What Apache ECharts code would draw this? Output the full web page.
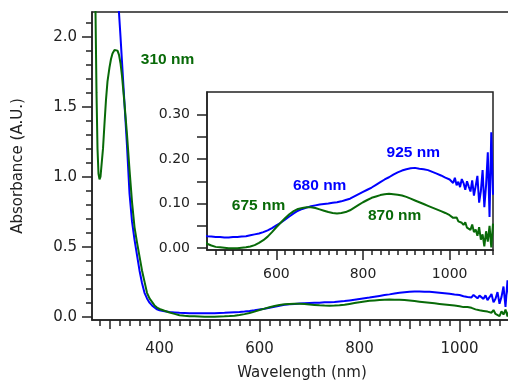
<!DOCTYPE html>
<html>
<head>
<meta charset="utf-8">
<script src="https://cdn.jsdelivr.net/npm/echarts@6/dist/echarts.min.js"></script>
<style>html,body{margin:0;padding:0;background:#fff}#c{width:508px;height:381px}</style>
</head>
<body>
<div id="c"></div>
<script>
// ---------- data ----------
const wavelength = [265,270,272,274,276,278,280,282,284,287,290,293,296,300,303,306,310,313,316,319,322,325,
  330,335,340,345,350,355,360,365,370,375,380,385,390,395,400,
  410,420,430,440,450,460,470,480,490,500,510,520,530,540,550,560,570,580,590,600,610,620,630,640,650,660,670,680,690,700,
  710,720,730,740,750,760,770,780,790,800,810,820,830,840,850,860,870,880,890,900,910,920,930,940,950,960,970,980,990,1000,
  1004,1008,1012,1016,1020,1024,1028,1032,1036,1040,1044,1048,1052,1056,1060,1064,1068,1072,1076,1080,1084,1088,1092,1096,1100];

const blueAbs = [4.5,4.3,4.2,4.1,4.0,3.9,3.8,3.72,3.64,3.52,3.4,3.28,3.15,3.0,2.86,2.73,2.56,2.42,2.3,2.17,2.0,1.82,
  1.52,1.22,0.88,0.68,0.55,0.44,0.33,0.24,0.17,0.13,0.1,0.08,0.065,0.052,0.045,
  0.038,0.033,0.03,0.027,0.026,0.025,0.025,0.024,0.024,0.025,0.025,0.026,0.027,0.029,0.031,0.033,0.036,0.04,0.045,0.051,0.057,0.064,0.071,0.078,0.084,0.088,0.091,0.094,0.096,0.098,
  0.099,0.1,0.102,0.103,0.105,0.108,0.111,0.116,0.121,0.126,0.131,0.136,0.142,0.148,0.154,0.159,0.165,0.17,0.174,0.177,0.179,0.18,0.178,0.177,0.175,0.171,0.167,0.163,0.158,0.154,
  0.150,0.146,0.158,0.141,0.149,0.137,0.155,0.146,0.131,0.150,0.138,0.127,0.152,0.118,0.139,0.162,0.102,0.128,0.175,0.092,0.141,0.215,0.07,0.26,0.12];

const greenAbs = [3.0,2.5,2.18,1.6,1.2,1.02,0.98,1.0,1.08,1.2,1.38,1.55,1.68,1.78,1.84,1.88,1.905,1.91,1.9,1.87,1.81,1.72,
  1.52,1.3,1.05,0.82,0.64,0.53,0.43,0.33,0.25,0.17,0.13,0.105,0.08,0.065,0.055,
  0.042,0.03,0.02,0.01,0.006,0.003,0.002,0.001,0.0,0.0,0.0,0.001,0.002,0.004,0.007,0.012,0.018,0.026,0.036,0.047,0.057,0.067,0.076,0.083,0.088,0.09,0.092,0.092,0.09,0.087,
  0.084,0.081,0.079,0.078,0.079,0.081,0.085,0.091,0.097,0.103,0.108,0.113,0.116,0.119,0.121,0.122,0.121,0.12,0.118,0.115,0.111,0.107,0.103,0.099,0.095,0.091,0.087,0.083,0.079,0.074,
  0.071,0.068,0.064,0.069,0.06,0.063,0.057,0.052,0.058,0.046,0.049,0.041,0.053,0.036,0.042,0.028,0.047,0.019,0.031,0.004,0.038,0.015,0.05,0.002,0.055];

const mainXLabels = [400,600,800,1000];
const mainYLabels = [0,0.5,1.0,1.5,2.0];
const insetXLabels = [600,800,1000];
const insetYLabels = [0,0.1,0.2,0.3];

const annotations = [
  {text:'310 nm', plot:'main', wl:416, abs:1.834, color:'green'},
  {text:'925 nm', plot:'inset', wl:916, abs:0.215, color:'blue'},
  {text:'680 nm', plot:'inset', wl:700, abs:0.139, color:'blue'},
  {text:'675 nm', plot:'inset', wl:559, abs:0.0945, color:'green'},
  {text:'870 nm', plot:'inset', wl:873, abs:0.072, color:'green'}
];

// ---------- styling ----------
const BLUE = '#0000ff', GREEN = '#086a08', INK = '#222';
const FONT = 'DejaVu Sans';

function pairs(vals){ const out=[]; for(let i=0;i<wavelength.length && i<vals.length;i++) out.push([wavelength[i], vals[i]]); return out; }
function range(a,b,s,skip){ const r=[]; for(let v=a; v<=b+1e-9; v+=s){ const x=Math.round(v*1000)/1000; if(!skip || !skip(x)) r.push(x);} return r; }

const mainMinorX = range(280,1100,20,x=>x%100===0);
const mainMidX = range(300,1100,200);
const mainMinorY = range(0.1,2.1,0.1,y=>Math.abs(y*2-Math.round(y*2))<1e-6);
const insetMinorX = range(460,1100,20,x=>x%200===0);
const insetYTicks = range(0,0.3,0.05);

const lineStyle = {color: INK, width: 1.5};
function tickAxis(grid, pos, min, max, ticks, len){
  return {type:'value', gridIndex:grid, position:pos, min:min, max:max,
    axisLine:{show:false, onZero:false}, splitLine:{show:false},
    axisTick:{show:true, customValues:ticks, length:len, lineStyle:lineStyle},
    axisLabel:{show:false}};
}

function annoData(plot){
  return annotations.filter(a=>a.plot===plot).map(a=>({
    name: a.text, coord:[a.wl, a.abs],
    label:{color: a.color==='blue'?BLUE:GREEN}
  }));
}
const markPointCfg = (plot)=>({
  symbol:'circle', symbolSize:1, itemStyle:{color:'transparent'},
  label:{show:true, position:'inside', formatter:p=>p.name, fontFamily:'Liberation Sans', fontWeight:'bold', fontSize:15.5},
  data: annoData(plot)
});

const chart = echarts.init(document.getElementById('c'), null, {renderer:'canvas'});
chart.setOption({
  animation:false,
  backgroundColor:'#fff',
  grid:[
    {left:92, top:12, width:420, height:308, show:true, borderColor:INK, borderWidth:1.5, backgroundColor:'transparent', outerBoundsMode:'none', containLabel:false},
    {left:207, top:92, width:286, height:158, show:true, borderColor:INK, borderWidth:1.5, backgroundColor:'#fff', outerBoundsMode:'none', containLabel:false}
  ],
  xAxis:[
    {type:'value', gridIndex:0, position:'bottom', min:265, max:1105,
      name:'Wavelength (nm)', nameLocation:'middle', nameGap:46,
      nameTextStyle:{fontFamily:FONT, fontSize:15, color:INK},
      axisLine:{show:true, onZero:false, lineStyle:lineStyle}, splitLine:{show:false},
      axisTick:{customValues:mainXLabels, length:12, lineStyle:lineStyle},
      axisLabel:{customValues:mainXLabels, margin:22, fontFamily:FONT, fontSize:15, color:INK, formatter:v=>String(v)}},
    tickAxis(0,'bottom',265,1105,mainMidX,9),
    tickAxis(0,'bottom',265,1105,mainMinorX,6),
    {type:'value', gridIndex:1, position:'bottom', min:440, max:1100,
      axisLine:{show:true, onZero:false, lineStyle:lineStyle}, splitLine:{show:false},
      axisTick:{customValues:insetXLabels, length:10, lineStyle:lineStyle},
      axisLabel:{customValues:insetXLabels, margin:17, fontFamily:FONT, fontSize:14, color:INK, formatter:v=>String(v)}},
    tickAxis(1,'bottom',440,1100,insetMinorX,5)
  ],
  yAxis:[
    {type:'value', gridIndex:0, position:'left', min:-0.024, max:2.176,
      name:'Absorbance (A.U.)', nameLocation:'middle', nameGap:66, nameRotate:90,
      nameTextStyle:{fontFamily:FONT, fontSize:15, color:INK},
      axisLine:{show:true, onZero:false, lineStyle:lineStyle}, splitLine:{show:false},
      axisTick:{customValues:mainYLabels, length:10, lineStyle:lineStyle},
      axisLabel:{customValues:mainYLabels, margin:15, fontFamily:FONT, fontSize:15, color:INK, formatter:v=>v.toFixed(1)}},
    tickAxis(0,'left',-0.024,2.176,mainMinorY,6),
    {type:'value', gridIndex:1, position:'left', min:-0.004, max:0.35,
      axisLine:{show:true, onZero:false, lineStyle:lineStyle}, splitLine:{show:false},
      axisTick:{customValues:insetYTicks, length:10, lineStyle:lineStyle},
      axisLabel:{customValues:insetYLabels, margin:17, fontFamily:FONT, fontSize:14, color:INK, formatter:v=>v.toFixed(2)}}
  ],
  series:[
    {type:'line', xAxisIndex:0, yAxisIndex:0, data:pairs(blueAbs), showSymbol:false, symbol:'none', lineStyle:{color:BLUE, width:2}, clip:true, z:3},
    {type:'line', xAxisIndex:0, yAxisIndex:0, data:pairs(greenAbs), showSymbol:false, symbol:'none', lineStyle:{color:GREEN, width:2}, clip:true, z:4,
      markPoint: markPointCfg('main')},
    {type:'line', xAxisIndex:3, yAxisIndex:2, data:pairs(blueAbs), showSymbol:false, symbol:'none', lineStyle:{color:BLUE, width:2}, clip:true, z:3,
      markPoint: markPointCfg('inset')},
    {type:'line', xAxisIndex:3, yAxisIndex:2, data:pairs(greenAbs), showSymbol:false, symbol:'none', lineStyle:{color:GREEN, width:2}, clip:true, z:4}
  ]
});
</script>
</body>
</html>
